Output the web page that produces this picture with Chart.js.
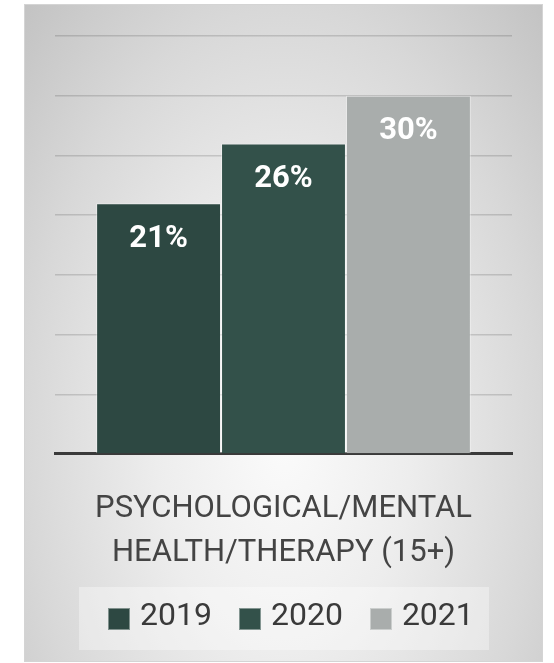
<!DOCTYPE html>
<html>
<head>
<meta charset="utf-8">
<script src="https://cdn.jsdelivr.net/npm/chart.js@4.4.1/dist/chart.umd.min.js"></script>
<style>
  html, body { margin: 0; padding: 0; background: #fff; }
  body { width: 554px; height: 663px; position: relative; overflow: hidden; font-family: Roboto, sans-serif; }
  #panel {
    position: absolute; left: 25px; top: 5px; width: 517px; height: 656px;
    background: radial-gradient(farthest-corner at 50% 66%, #fbfbfb 0%, #ededed 35%, #d8d8d8 70%, #c3c3c3 100%);
    box-shadow: 0 0 0 1px #d4d4d4;
  }
  #chart { position: absolute; left: 0; top: 0; }
  #legend {
    position: absolute; left: 79px; top: 587px; width: 410px; height: 63px;
    background: rgba(255, 255, 255, 0.35);
    box-sizing: border-box; padding: 11px 0 0 29px;
    display: flex; align-items: flex-start;
  }
  .item { display: flex; align-items: flex-start; margin-right: 27px; }
  .swatch { width: 22px; height: 22px; box-sizing: border-box; margin-top: 10px; margin-right: 10px; border: 1px solid rgba(255,255,255,0.4); }
  .label { font-size: 32px; line-height: 32px; color: #3a3a3a; }
</style>
</head>
<body>
<div id="panel"></div>
<canvas id="chart" width="554" height="663"></canvas>
<div id="legend"></div>
<script>
const categories = [['PSYCHOLOGICAL/MENTAL', 'HEALTH/THERAPY (15+)']];
const years = ['2019', '2020', '2021'];
const shares = [[21], [26], [30]];
const barColors = ['#2d4842', '#33514a', '#a9adac'];

// white percentage inside the top of each bar
const barLabels = {
    id: 'barLabels',
    afterDraw(chart) {
        const ctx = chart.ctx;
        ctx.save();
        ctx.font = 'bold 31px Roboto';
        ctx.fillStyle = '#ffffff';
        ctx.textAlign = 'center';
        ctx.textBaseline = 'middle';
        chart.data.datasets.forEach((ds, i) => {
            chart.getDatasetMeta(i).data.forEach((bar, j) => {
                ctx.fillText(ds.data[j] + '%', bar.x, bar.y + 36);
            });
        });
        ctx.restore();
    }
};

const chart = new Chart(document.getElementById('chart'), {
    type: 'bar',
    data: {
        labels: categories,
        datasets: years.map((y, i) => ({
            label: y,
            data: shares[i],
            backgroundColor: barColors[i],
            borderColor: 'rgba(255,255,255,0.4)',
            borderWidth: 1,
            categoryPercentage: 0.82,
            barPercentage: 1
        }))
    },
    options: {
        responsive: false,
        devicePixelRatio: 1,
        animation: false,
        layout: { padding: { left: 55, right: 42, top: 36, bottom: 55 } },
        plugins: {
            legend: { display: false },
            tooltip: { enabled: false }
        },
        scales: {
            x: {
                z: 1,
                grid: { display: false, drawTicks: false },
                border: { color: '#3a3a3a', width: 3 },
                ticks: {
                    color: '#444444',
                    padding: 33,
                    font: { family: 'Roboto', size: 31, lineHeight: 1.42 }
                }
            },
            y: {
                z: 1,
                min: 0,
                max: 35,
                grid: { color: 'rgba(0,0,0,0.14)', lineWidth: 1.5, drawTicks: false },
                border: { display: false },
                ticks: { display: false, stepSize: 5 }
            }
        }
    },
    plugins: [barLabels]
});

// legend built from the datasets
const legend = document.getElementById('legend');
chart.data.datasets.forEach(ds => {
    const item = document.createElement('div');
    item.className = 'item';
    const sw = document.createElement('div');
    sw.className = 'swatch';
    sw.style.background = ds.backgroundColor;
    const txt = document.createElement('span');
    txt.className = 'label';
    txt.textContent = ds.label;
    item.appendChild(sw);
    item.appendChild(txt);
    legend.appendChild(item);
});
</script>
</body>
</html>
